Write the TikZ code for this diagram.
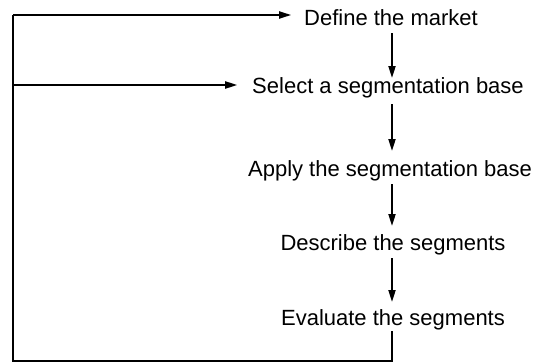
\documentclass[tikz,border=0pt]{standalone}
\usepackage{fontspec}
\setmainfont{Liberation Sans}
\usetikzlibrary{arrows.meta}
\begin{document}
\begin{tikzpicture}[x=1pt,y=-1pt,
  line width=2pt, line join=miter,
  lbl/.style={font=\fontsize{22}{26}\selectfont, inner sep=0pt, anchor=base, text height=16pt, text depth=5pt},
  arr/.style={-{Triangle[length=12pt,width=7pt]}}]
\useasboundingbox (0,0) rectangle (541,364);
\coordinate (col) at (392,0);
\node[lbl] (def) at (391,25) {Define the market};
\node[lbl] (sel) at (388,93) {Select a segmentation base};
\node[lbl] (app) at (390,176) {Apply the segmentation base};
\node[lbl] (des) at (393,250) {Describe the segments};
\node[lbl] (eva) at (393,325) {Evaluate the segments};
\coordinate (tl) at (13,15);
\coordinate (ml) at (13,85);
\coordinate (bl) at (13,361);
\draw[arr, shorten <=2pt, shorten >=-2pt] (def.south -| col) -- (sel.north -| col);
\draw[arr, shorten <=5pt, shorten >=8pt] (sel.south -| col) -- (app.north -| col);
\draw[arr, shorten <=2pt, shorten >=7pt] (app.south -| col) -- (des.north -| col);
\draw[arr, shorten <=2pt, shorten >=6pt] (des.south -| col) -- (eva.north -| col);
\draw (eva.south -| col) |- (bl) -- (tl);
\draw[arr, shorten >=12pt] (tl) -- (def.west |- tl);
\draw[arr, shorten >=14pt] (ml) -- (sel.west |- ml);
\end{tikzpicture}
\end{document}
